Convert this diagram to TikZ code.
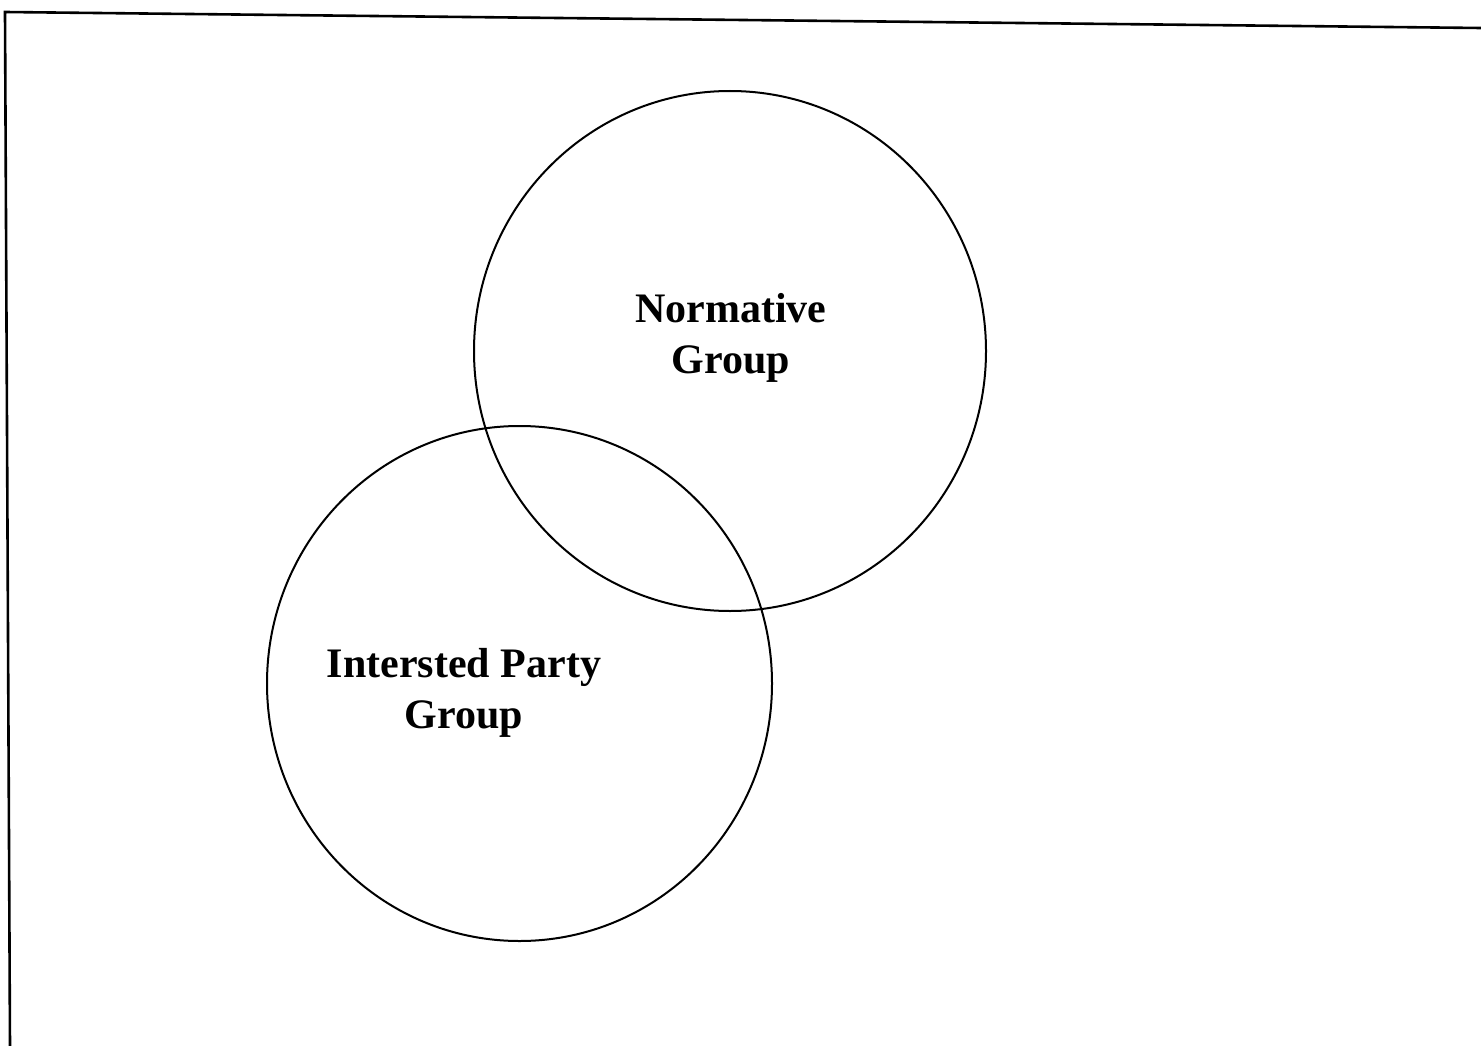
\documentclass[tikz,border=0pt]{standalone}
\usepackage{fontspec}
\setmainfont{Liberation Serif}
\begin{document}
\begin{tikzpicture}[x=1pt,y=-1pt,
  ring/.style={draw=black,line width=2pt},
  edge/.style={draw=black,line width=2.6pt},
  label/.style={font=\fontsize{42}{51}\selectfont\bfseries,align=center,inner sep=0pt}]
  \useasboundingbox (0,0) rectangle (1481,1046);
  % partial frame: top and left edges
  \coordinate (tl) at (5,12);
  \coordinate (tr) at (1481,28);
  \coordinate (bl) at (10,1046);
  \draw[edge] (tr) -- (tl) -- (bl);
  % the two overlapping groups
  \draw[ring] (730,351) ellipse [x radius=256, y radius=260];
  \draw[ring] (519.5,683.5) ellipse [x radius=252.5, y radius=257.5];
  \node[label] (norm) at (731,338) {Normative\\Group};
  \node[label] (party) at (464,693) {Intersted Party\\Group};
\end{tikzpicture}
\end{document}
